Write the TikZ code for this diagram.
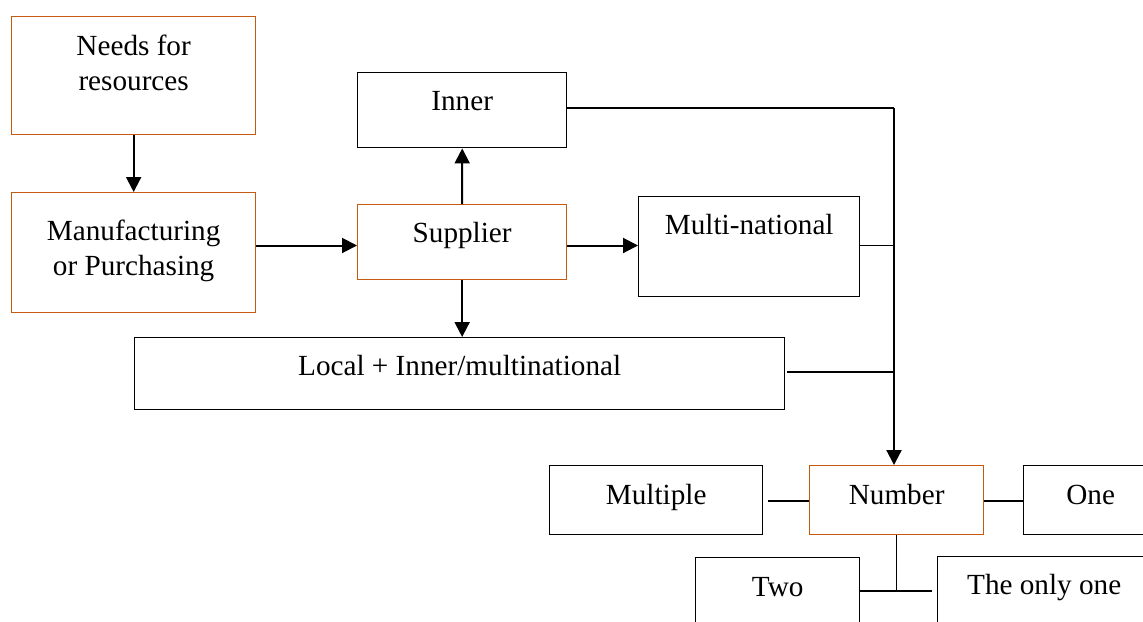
\documentclass[tikz,border=0pt]{standalone}
\usepackage{fontspec}
\setmainfont{Liberation Serif}
\usetikzlibrary{arrows.meta}
\definecolor{boxorange}{RGB}{197,90,17}
\begin{document}
\begin{tikzpicture}[x=0.5pt,y=-0.5pt,
  box/.style={draw=black, line width=0.7pt, inner sep=0pt, align=flush center, anchor=north west,
    font=\fontsize{14.6}{17.5}\selectfont},
  obox/.style={box, draw=boxorange, line width=0.65pt},
  arr/.style={line width=1pt, -{Triangle[length=7.5pt,width=7.5pt]}},
  thinline/.style={line width=0.65pt},
  busline/.style={line width=1.1pt}]
\useasboundingbox (0,0) rectangle (1143,621);
\fill[white] (0,0) rectangle (1143,621);
\clip (0,0) rectangle (1143,621);
% boxes
\node[obox, text width=122pt, text height=19.25pt, text depth=39.75pt] (needs) at (11,16) {Needs for\\resources};
\node[obox, text width=122pt, text height=24pt, text depth=36pt] (manuf) at (11,192) {Manufacturing\\or Purchasing};
\node[box, text width=104.5pt, text height=19pt, text depth=18.5pt] (inner) at (357,72) {Inner};
\node[obox, text width=104.5pt, text height=19.15pt, text depth=18.35pt] (supplier) at (357,204) {Supplier};
\node[box, text width=110.5pt, text height=19pt, text depth=31pt] (multi) at (638,196) {Multi-national};
\node[box, text width=325pt, text height=19pt, text depth=17pt] (local) at (134,337) {Local + Inner/multinational};
\node[box, text width=106.5pt, text height=19.5pt, text depth=15pt] (multiple) at (549,465) {Multiple};
\node[obox, text width=87pt, text height=19.5pt, text depth=15pt] (number) at (809,465) {Number};
\node[box, text width=67pt, text height=19.5pt, text depth=15pt] (one) at (1023,465) {One};
\node[box, text width=82pt, text height=19.5pt, text depth=22pt] (two) at (695,557) {Two};
\node[box, text width=106.5pt, text height=18.65pt, text depth=23.35pt] (theonly) at (937,556) {The only one};
% helper coordinates
\coordinate (busTop) at (894,108);
\coordinate (hA) at (0,245.5);
\coordinate (hB) at (0,372);
\coordinate (hC) at (0,501);
\coordinate (hD) at (0,591);
% connectors
\draw[arr] (needs.south) -- (manuf.north);
\draw[arr] (manuf.east |- hA) -- (supplier.west |- hA);
\draw[arr] (supplier.north) -- (inner.south);
\draw[arr] (supplier.east |- hA) -- (multi.west |- hA);
\draw[arr] (supplier.south) -- (supplier.south |- local.north);
\draw[thinline] (inner.east |- busTop) -- (busTop);
\draw[thinline] (multi.east |- hA) -- (busTop |- hA);
\draw[thinline] ([xshift=1pt]local.east |- hB) -- (busTop |- hB);
\draw[arr, busline] (busTop) -- (busTop |- number.north);
\draw[thinline] ([xshift=2.5pt]multiple.east |- hC) -- (number.west |- hC);
\draw[thinline] (number.east |- hC) -- (one.west |- hC);
\draw[thinline] (number.south) -- (number.south |- hD);
\draw[thinline] (two.east |- hD) -- ([xshift=-2.5pt]theonly.west |- hD);
\end{tikzpicture}
\end{document}
